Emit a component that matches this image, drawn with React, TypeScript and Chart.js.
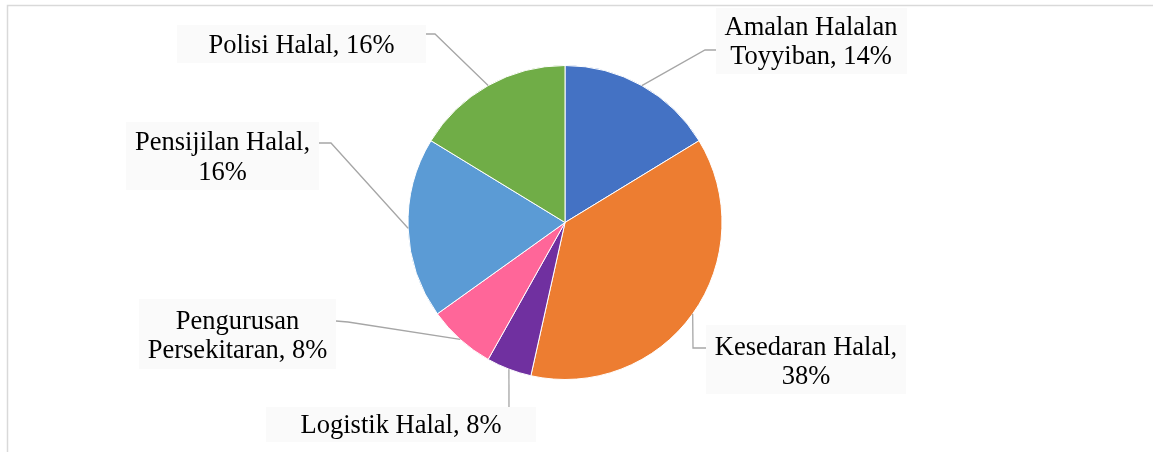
import React, { useEffect, useRef } from "react";
import { Chart, registerables } from "chart.js";

Chart.register(...registerables);

const categories = [
  "Amalan Halalan Toyyiban",
  "Kesedaran Halal",
  "Logistik Halal",
  "Pengurusan Persekitaran",
  "Pensijilan Halal",
  "Polisi Halal",
];
const values = [7, 16, 2, 3, 8, 7];
const labelLines = [
  ["Amalan Halalan", "Toyyiban, 14%"],
  ["Kesedaran Halal,", "38%"],
  ["Logistik Halal, 8%"],
  ["Pengurusan", "Persekitaran, 8%"],
  ["Pensijilan Halal,", "16%"],
  ["Polisi Halal, 16%"],
];
const colors = ["#4472C4", "#ED7D31", "#7030A0", "#FF6699", "#5B9BD5", "#70AD47"];

// label box layout: box rect, text center x, baselines, leader bend points (from box to pie)
const labelLayout = [
  { box: [716, 8, 191, 66], cx: 811, base: [35, 64], leader: [[716, 50], [705, 50]] },
  { box: [706, 325, 200, 69], cx: 806, base: [355, 384], leader: [[706, 348], [693, 348]] },
  { box: [266, 407, 270, 35], cx: 401, base: [433], leader: [[509, 407]] },
  { box: [139, 299, 197, 70], cx: 237.5, base: [329, 358], leader: [[336, 321], [348, 322]] },
  { box: [126, 122, 193, 68], cx: 222.5, base: [150, 180], leader: [[319, 143], [331, 143]] },
  { box: [177, 25, 249, 38], cx: 301.5, base: [53], leader: [[426, 34], [435, 34]] },
];

const labelPlugin = {
  id: "labelPlugin",
  beforeDraw(chart: any) {
    const ctx = chart.ctx;
    ctx.save();
    ctx.strokeStyle = "#D9D9D9";
    ctx.lineWidth = 1.5;
    ctx.beginPath();
    ctx.moveTo(7.5, 452);
    ctx.lineTo(7.5, 5.5);
    ctx.lineTo(1153, 5.5);
    ctx.stroke();
    ctx.restore();
  },
  afterDatasetsDraw(chart: any) {
    const ctx = chart.ctx;
    const meta = chart.getDatasetMeta(0);
    ctx.save();
    meta.data.forEach((arc: any, i: number) => {
      const p = arc.getProps(["x", "y", "startAngle", "endAngle", "outerRadius"], true);
      const mid = (p.startAngle + p.endAngle) / 2;
      const ex = p.x + Math.cos(mid) * p.outerRadius;
      const ey = p.y + Math.sin(mid) * p.outerRadius;
      const lay = labelLayout[i];
      ctx.strokeStyle = "#A6A6A6";
      ctx.lineWidth = 1.3;
      ctx.beginPath();
      const pts = lay.leader;
      ctx.moveTo(pts[0][0], pts[0][1]);
      for (let k = 1; k < pts.length; k++) ctx.lineTo(pts[k][0], pts[k][1]);
      ctx.lineTo(ex, ey);
      ctx.stroke();
      ctx.fillStyle = "#FAFAFA";
      ctx.fillRect(lay.box[0], lay.box[1], lay.box[2], lay.box[3]);
      ctx.fillStyle = "#000000";
      ctx.font = "26.5px 'Liberation Serif', 'Times New Roman', serif";
      ctx.textAlign = "center";
      ctx.textBaseline = "alphabetic";
      labelLines[i].forEach((line, j) => {
        ctx.fillText(line, lay.cx, lay.base[j]);
      });
    });
    ctx.restore();
  },
};

export default function App() {
  const ref = useRef<HTMLCanvasElement | null>(null);
  useEffect(() => {
    document.body.style.margin = "0";
    if (!ref.current) return;
    const chart = new Chart(ref.current, {
      type: "pie",
      data: {
        labels: categories,
        datasets: [
          {
            data: values,
            backgroundColor: colors,
            borderColor: "#FFFFFF",
            borderWidth: 1,
          },
        ],
      },
      options: {
        animation: false,
        responsive: false,
        layout: { padding: { left: 400, right: 423, top: 65, bottom: 72 } },
        plugins: { legend: { display: false }, tooltip: { enabled: false } },
      },
      plugins: [labelPlugin],
    });
    return () => chart.destroy();
  }, []);
  return (
    <div style={{ width: 1153, height: 452, background: "#fff" }}>
      <canvas ref={ref} width={1153} height={452} style={{ display: "block" }} />
    </div>
  );
}
